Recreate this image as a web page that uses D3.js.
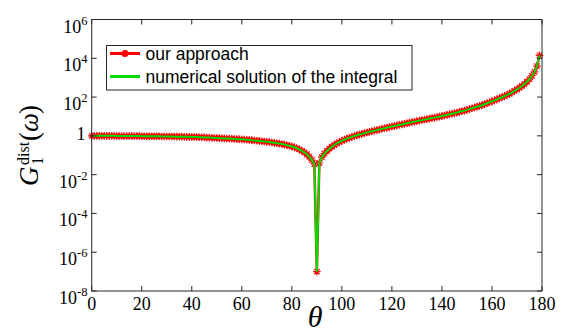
<!DOCTYPE html>
<html>
<head>
<meta charset="utf-8">
<script src="https://cdn.jsdelivr.net/npm/d3@7"></script>
<style>
  html, body { margin: 0; padding: 0; background: #fff; }
  svg { display: block; }
</style>
</head>
<body>
<svg id="chart" width="562" height="333"></svg>
<script>
// Scattering angle grid (degrees), one sample per degree
const thetaDeg = d3.range(0, 180, 1);

// log10 of G1^dist(omega) at each angle in thetaDeg
const log10G = [
   0.00,  0.00,  0.00,  0.00,  0.00,  0.00,  0.00,  0.00,  0.00,  0.00,
  -0.01, -0.01, -0.01, -0.01, -0.01, -0.01, -0.01, -0.01, -0.01, -0.01,
  -0.02, -0.02, -0.02, -0.02, -0.02, -0.02, -0.02, -0.02, -0.03, -0.03,
  -0.03, -0.03, -0.03, -0.04, -0.04, -0.04, -0.04, -0.05, -0.05, -0.05,
  -0.06, -0.06, -0.06, -0.07, -0.07, -0.08, -0.09, -0.09, -0.10, -0.11,
  -0.11, -0.12, -0.12, -0.13, -0.14, -0.14, -0.15, -0.16, -0.17, -0.17,
  -0.18, -0.19, -0.20, -0.21, -0.22, -0.24, -0.25, -0.26, -0.28, -0.29,
  -0.31, -0.32, -0.34, -0.36, -0.38, -0.40, -0.42, -0.45, -0.48, -0.51,
  -0.55, -0.59, -0.64, -0.70, -0.77, -0.85, -0.95, -1.08, -1.25, -1.45,
  -7.00, -1.40, -1.10, -0.92, -0.78, -0.66, -0.56, -0.47, -0.39, -0.32,
  -0.26, -0.20, -0.14, -0.10, -0.05, -0.01,  0.03,  0.07,  0.10,  0.14,
   0.17,  0.20,  0.24,  0.27,  0.30,  0.33,  0.36,  0.39,  0.42,  0.45,
   0.48,  0.51,  0.54,  0.57,  0.59,  0.62,  0.65,  0.68,  0.71,  0.73,
   0.76,  0.79,  0.81,  0.84,  0.86,  0.89,  0.92,  0.94,  0.97,  0.99,
   1.02,  1.05,  1.08,  1.11,  1.14,  1.17,  1.20,  1.24,  1.27,  1.30,
   1.34,  1.38,  1.42,  1.46,  1.50,  1.54,  1.58,  1.63,  1.68,  1.73,
   1.78,  1.83,  1.88,  1.94,  1.99,  2.05,  2.11,  2.17,  2.24,  2.32,
   2.40,  2.48,  2.57,  2.67,  2.79,  2.93,  3.10,  3.30,  3.60,  4.15
];

const xTicks = [0, 20, 40, 60, 80, 100, 120, 140, 160, 180];
const yTickExponents = [-8, -6, -4, -2, 0, 2, 4, 6];
const seriesNames = ["our approach", "numerical solution of the integral"];

// Both curves share the same sampled values
const approachPts = thetaDeg.map((t, i) => ({ t, g: Math.pow(10, log10G[i]) }));
const numericalPts = approachPts;

const serif = "'Liberation Serif', 'Times New Roman', serif";
const sans = "'Liberation Sans', Arial, sans-serif";

const svg = d3.select("#chart");
const plot = { left: 91.7, right: 542, top: 19.5, bottom: 291 };

const x = d3.scaleLinear().domain([0, 180]).range([plot.left, plot.right]);
const y = d3.scaleLog().domain([1e-8, 1e6]).range([plot.bottom, plot.top]);

const axisColor = "#262626";
const red = "#ff0000";
const green = "#00dd00";

// Clip marks to the axes box (with a little room for markers)
svg.append("defs").append("clipPath").attr("id", "plotClip")
  .append("rect")
  .attr("x", plot.left - 5).attr("y", plot.top)
  .attr("width", plot.right - plot.left + 10).attr("height", plot.bottom - plot.top + 5);

const line = d3.line().x(d => x(d.t)).y(d => y(d.g));

const marks = svg.append("g").attr("clip-path", "url(#plotClip)");

// Red curve with asterisk markers
marks.append("path").datum(approachPts)
  .attr("d", line).attr("fill", "none")
  .attr("stroke", red).attr("stroke-width", 2.5);

const ast = r => {
  const k = r * 0.72;
  return `M${-r},0L${r},0M0,${-r}L0,${r}M${-k},${-k}L${k},${k}M${-k},${k}L${k},${-k}`;
};
marks.append("g").selectAll("path").data(approachPts).join("path")
  .attr("transform", d => `translate(${x(d.t)},${y(d.g)})`)
  .attr("d", ast(3.8))
  .attr("fill", "none").attr("stroke", red).attr("stroke-width", 1.2);

// Green curve on top
marks.append("path").datum(numericalPts)
  .attr("d", line).attr("fill", "none")
  .attr("stroke", green).attr("stroke-width", 2);

// Axes box with inward ticks on all four sides
const tickLen = 5;
const axisG = svg.append("g").attr("stroke", axisColor).attr("stroke-width", 1).attr("fill", "none");
axisG.append("rect")
  .attr("x", plot.left).attr("y", plot.top)
  .attr("width", plot.right - plot.left).attr("height", plot.bottom - plot.top);

xTicks.forEach(t => {
  axisG.append("line").attr("x1", x(t)).attr("x2", x(t))
    .attr("y1", plot.bottom).attr("y2", plot.bottom - tickLen);
  axisG.append("line").attr("x1", x(t)).attr("x2", x(t))
    .attr("y1", plot.top).attr("y2", plot.top + tickLen);
});
yTickExponents.forEach(e => {
  const yy = y(Math.pow(10, e));
  axisG.append("line").attr("x1", plot.left).attr("x2", plot.left + tickLen)
    .attr("y1", yy).attr("y2", yy);
  axisG.append("line").attr("x1", plot.right).attr("x2", plot.right - tickLen)
    .attr("y1", yy).attr("y2", yy);
});

// X tick labels
svg.append("g").selectAll("text").data(xTicks).join("text")
  .attr("font-family", serif).attr("font-size", 18).attr("fill", "#000")
  .attr("x", d => x(d)).attr("y", 310)
  .attr("text-anchor", "middle")
  .text(d => d);

// Y tick labels: powers of ten, "1" for 10^0
const yLab = svg.append("g").attr("font-family", serif).attr("fill", "#000");
yTickExponents.forEach(e => {
  const yy = y(Math.pow(10, e));
  if (e === 0) {
    yLab.append("text")
      .attr("x", 85.5).attr("y", yy + 4.5).attr("text-anchor", "end")
      .attr("font-size", 18).text("1");
  } else {
    const t = yLab.append("text")
      .attr("x", 87.5).attr("y", yy + 13).attr("text-anchor", "end")
      .attr("font-size", 18);
    t.append("tspan").text("10");
    t.append("tspan").attr("font-size", 12.5).attr("dy", -8).text(String(e));
  }
});

// X axis title
svg.append("text")
  .attr("x", 315).attr("y", 327)
  .attr("text-anchor", "middle")
  .attr("font-family", serif)
  .attr("font-style", "italic")
  .attr("font-size", 30)
  .text("θ");

// Y axis title: G_1^dist(ω), rotated
const yt = svg.append("g").attr("transform", "translate(38,186) rotate(-90)")
  .attr("font-family", serif).attr("fill", "#000");
yt.append("text").attr("x", 0).attr("y", 0).attr("font-size", 27).attr("font-style", "italic").text("G");
yt.append("text").attr("x", 21).attr("y", -9).attr("font-size", 16).text("dist");
yt.append("text").attr("x", 21).attr("y", 5).attr("font-size", 16).text("1");
yt.append("text").attr("x", 45).attr("y", 0).attr("font-size", 27).text("(");
yt.append("text").attr("x", 54).attr("y", 0).attr("font-size", 27).attr("font-style", "italic").text("ω");
yt.append("text").attr("x", 72).attr("y", 0).attr("font-size", 27).text(")");

// Legend
const leg = svg.append("g");
leg.append("rect")
  .attr("x", 106.5).attr("y", 45.5).attr("width", 305.5).attr("height", 44.5)
  .attr("fill", "#fff").attr("stroke", axisColor).attr("stroke-width", 1);
const legRows = [
  { name: seriesNames[0], color: red, marker: true, yy: 53.5 },
  { name: seriesNames[1], color: green, marker: false, yy: 76.5 }
];
legRows.forEach(r => {
  leg.append("line").attr("x1", 110).attr("x2", 140).attr("y1", r.yy).attr("y2", r.yy)
    .attr("stroke", r.color).attr("stroke-width", 3);
  if (r.marker) {
    leg.append("circle").attr("cx", 125).attr("cy", r.yy).attr("r", 3.5).attr("fill", r.color);
  }
  leg.append("text")
    .attr("font-family", sans).attr("font-size", 17.5).attr("fill", "#000")
    .attr("x", 145.5).attr("y", r.yy + 6).text(r.name);
});
</script>
</body>
</html>
